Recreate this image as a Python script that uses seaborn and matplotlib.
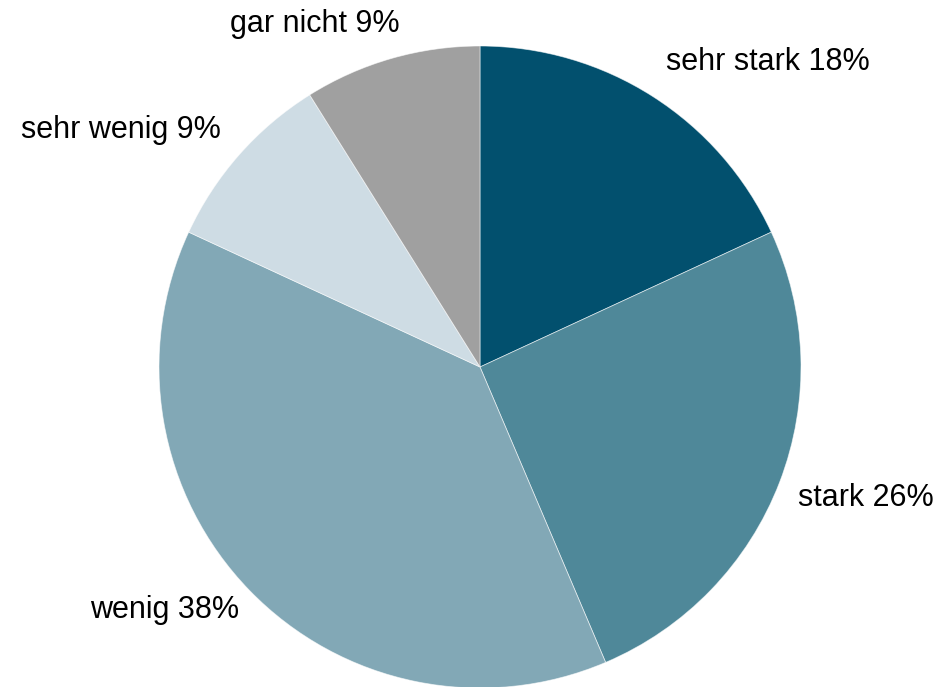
import matplotlib
matplotlib.use("Agg")
import matplotlib.pyplot as plt
import seaborn as sns

categories = ["sehr stark", "stark", "wenig", "sehr wenig", "gar nicht"]
values = [18.1, 25.5, 38.3, 9.2, 8.9]
pct_labels = ["18%", "26%", "38%", "9%", "9%"]
colors = ["#02506E", "#4F8899", "#82A8B6", "#CEDCE4", "#A0A0A0"]

# label centre positions (in units of pie radius)
label_pos = [(0.897, 0.950), (1.202, -0.408), (-0.981, -0.757),
             (-1.118, 0.738), (-0.514, 1.069)]

sns.set_theme(style="white")
plt.rcParams['font.family'] = ['Liberation Sans', 'DejaVu Sans']

fig = plt.figure(figsize=(9.41, 6.87), dpi=100)
ax = fig.add_axes([0, 0, 1, 1])
palette = sns.color_palette(colors)

wedges, texts = ax.pie(values, colors=palette, startangle=90, counterclock=False,
                       radius=1, labels=[f"{c} {p}" for c, p in zip(categories, pct_labels)],
                       wedgeprops=dict(edgecolor=(1, 1, 1, 0.6), linewidth=0.6),
                       textprops=dict(fontsize=22, color="black"))
for t, (x, y) in zip(texts, label_pos):
    t.set_position((x, y))
    t.set_ha("center")
    t.set_va("center")

R = 321.0
ax.set_xlim(-480 / R, (941 - 480) / R)
ax.set_ylim(-(687 - 367) / R, 367 / R)
ax.set_aspect("equal")
ax.axis("off")
fig.savefig("out.png", dpi=100)
